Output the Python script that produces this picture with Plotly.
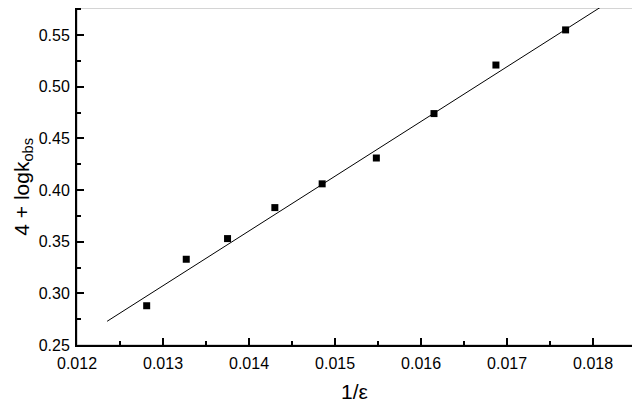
import numpy as np
import plotly.graph_objects as go

# measured points
inv_eps = [0.01281, 0.01327, 0.01375, 0.01430, 0.01485, 0.01548, 0.01615, 0.01687, 0.01768]
logk = [0.288, 0.333, 0.353, 0.383, 0.406, 0.431, 0.474, 0.521, 0.555]

# linear fit
slope = 53.0
intercept = -0.3816
fit_x = [0.01235, 0.0182]
fit_y = [intercept + slope * v for v in fit_x]

xticks = [0.012, 0.013, 0.014, 0.015, 0.016, 0.017, 0.018]
yticks = [0.25, 0.30, 0.35, 0.40, 0.45, 0.50, 0.55]

fig = go.Figure()
fig.add_trace(go.Scatter(x=fit_x, y=fit_y, mode='lines',
                         line=dict(color='black', width=1), showlegend=False))
fig.add_trace(go.Scatter(x=inv_eps, y=logk, mode='markers',
                         marker=dict(symbol='square', size=7, color='black'),
                         showlegend=False))

# gray frame on top/right
fig.add_shape(type='rect', xref='paper', yref='paper', x0=0, y0=0, x1=1, y1=1,
              line=dict(color='#aaaaaa', width=1), layer='below')

# axis titles as annotations so they sit where the reference has them
fig.add_annotation(text='1/ε', xref='paper', yref='paper', x=0.496, y=-0.138,
                   xanchor='center', yanchor='middle', showarrow=False,
                   font=dict(size=21))
fig.add_annotation(text='4 + logk<sub>obs</sub>', xref='paper', yref='paper',
                   x=-0.098, y=0.47, xanchor='center', yanchor='middle',
                   textangle=-90, showarrow=False, font=dict(size=21))

# the page body adds an 8px offset, so the figure is sized for that
fig.update_layout(
    width=632, height=395,
    margin=dict(l=69, r=3, t=0, b=58),
    paper_bgcolor='white', plot_bgcolor='white',
    font=dict(family='Arial, Liberation Sans', color='black', size=16),
    xaxis=dict(
        range=[0.012, 0.01851], automargin=False,
        tickvals=xticks, ticktext=['%.3f' % v for v in xticks],
        ticks='inside', ticklen=7, tickwidth=1.5, tickcolor='black',
        minor=dict(ticks='inside', ticklen=4, tickwidth=1.5, tickcolor='black', dtick=0.0005),
        showline=True, linecolor='black', linewidth=2, showgrid=False, zeroline=False,
        ticklabelstandoff=3,
    ),
    yaxis=dict(
        range=[0.25, 0.5762], automargin=False,
        tickvals=yticks, ticktext=['%.2f' % v for v in yticks],
        ticks='inside', ticklen=7, tickwidth=1.5, tickcolor='black',
        minor=dict(ticks='inside', ticklen=4, tickwidth=1.5, tickcolor='black', dtick=0.025),
        showline=True, linecolor='black', linewidth=2, showgrid=False, zeroline=False,
        ticklabelstandoff=2,
    ),
)

fig.write_html("out.html")
